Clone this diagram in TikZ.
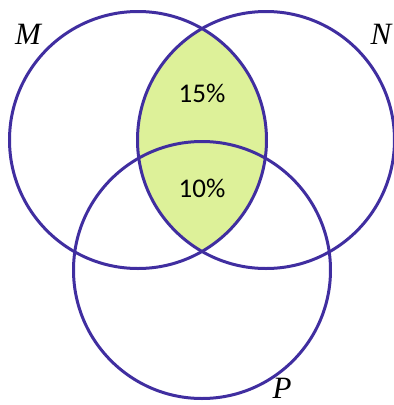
\documentclass[tikz,border=0pt]{standalone}
\usepackage{fontspec}
\setmainfont{Carlito}
\newfontfamily\setfont{Liberation Serif}
\definecolor{setline}{RGB}{64,46,160}
\definecolor{lensfill}{RGB}{221,241,153}
\begin{document}
\begin{tikzpicture}[x=1pt,y=-1pt,
		set/.style={circle,draw=setline,line width=3pt,minimum size=257pt,inner sep=0pt},
		every node/.append style={font=\fontsize{27}{30}\selectfont}]
		\useasboundingbox (0,0) rectangle (394,405);
		\begin{scope}
			\clip (138,140) circle (128.5pt);
			\fill[lensfill] (266,140) circle (128.5pt);
		\end{scope}
		\foreach \n/\x/\y in {M/138/140,N/266/140,P/202/270}
			\node[set] (\n) at (\x,\y) {};
		\foreach \n/\x/\y in {M/28/34,N/381/34,P/282/388}
			\node[inner sep=0pt,font=\setfont\itshape\fontsize{31}{34}\selectfont] (lab\n) at (\x,\y) {\n};
		\node (mn) at (202,93) {15\%};
		\node (mnp) at (202,188) {10\%};
	\end{tikzpicture}
\end{document}
